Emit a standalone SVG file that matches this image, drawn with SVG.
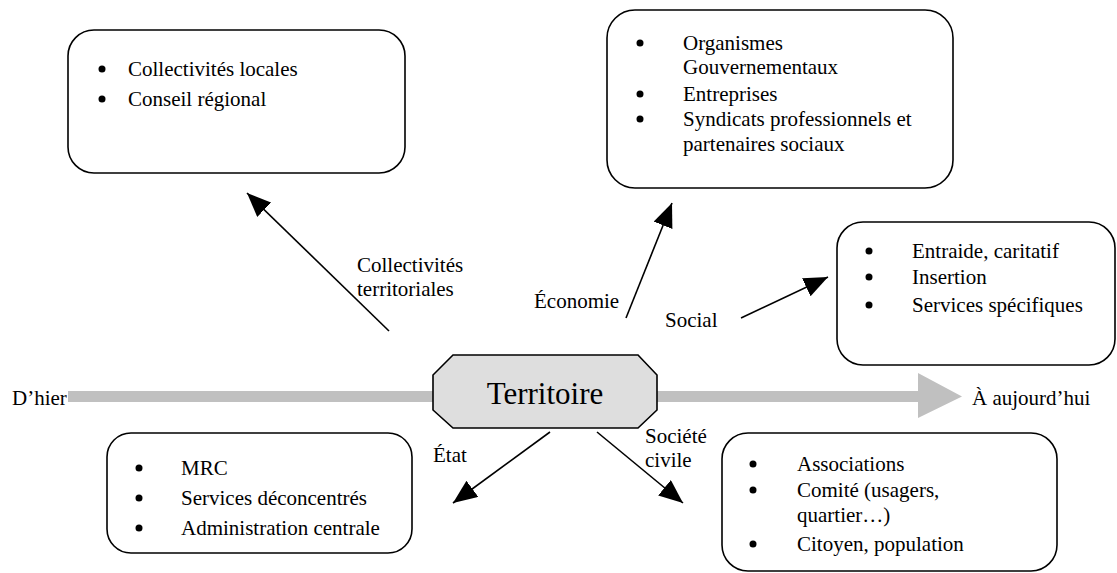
<svg xmlns="http://www.w3.org/2000/svg" width="1117" height="573" viewBox="0 0 1117 573">
<defs>
<style>
text{font-family:"Liberation Serif","Times New Roman",serif;font-size:21px;fill:#000}
.box{fill:#fff;stroke:#000;stroke-width:1.6}
.dot{fill:#000}
.con{stroke:#000;stroke-width:1.6;fill:none;marker-end:url(#ah)}
</style>
<marker id="ah" viewBox="0 0 24 20" refX="24" refY="10" markerWidth="24" markerHeight="20" markerUnits="userSpaceOnUse" orient="auto">
<path d="M0,0 L24,10 L0,20 Z" fill="#000"/>
</marker>
</defs>
<rect width="1117" height="573" fill="#fff"/>

<g id="timeline">
<rect x="68" y="391" width="366" height="11" fill="#c0c0c0"/>
<path d="M657,391 L918,391 L918,373 L962,396.5 L918,418 L918,402 L657,402 Z" fill="#c0c0c0"/>
<text x="12" y="405">D’hier</text>
<text x="972" y="405">À aujourd’hui</text>
</g>

<g id="connectors">
<line class="con" x1="389" y1="331" x2="247" y2="193"/>
<line class="con" x1="626" y1="318" x2="672" y2="203"/>
<line class="con" x1="741" y1="318" x2="828" y2="277"/>
<line class="con" x1="550" y1="432" x2="453" y2="503"/>
<line class="con" x1="597" y1="432" x2="683" y2="503"/>
<text x="357" y="272">Collectivités</text>
<text x="357" y="296">territoriales</text>
<text x="534" y="308">Économie</text>
<text x="665" y="327">Social</text>
<text x="433" y="462">État</text>
<text x="645" y="443">Société</text>
<text x="645" y="467">civile</text>
</g>

<g id="territoire">
<path d="M453,355 L638,355 L657,375 L657,410 L638,428 L453,428 L433,410 L433,375 Z" fill="#dedede" stroke="#000" stroke-width="1.6"/>
<text x="545" y="404" text-anchor="middle" style="font-size:31px">Territoire</text>
</g>

<g id="collectivites">
<rect class="box" x="68" y="30" width="337" height="143" rx="26"/>
<circle class="dot" cx="102" cy="69" r="3.5"/>
<circle class="dot" cx="102" cy="99" r="3.5"/>
<text x="128" y="76">Collectivités locales</text>
<text x="128" y="106">Conseil régional</text>
</g>

<g id="economie">
<rect class="box" x="607" y="10" width="346" height="178" rx="28"/>
<circle class="dot" cx="640" cy="43" r="3.5"/>
<circle class="dot" cx="640" cy="94" r="3.5"/>
<circle class="dot" cx="640" cy="119" r="3.5"/>
<text x="683" y="50">Organismes</text>
<text x="683" y="74">Gouvernementaux</text>
<text x="683" y="101">Entreprises</text>
<text x="683" y="126">Syndicats professionnels et</text>
<text x="683" y="151">partenaires sociaux</text>
</g>

<g id="social">
<rect class="box" x="837" y="222" width="278" height="143" rx="26"/>
<circle class="dot" cx="869" cy="251" r="3.5"/>
<circle class="dot" cx="869" cy="277" r="3.5"/>
<circle class="dot" cx="869" cy="305" r="3.5"/>
<text x="912" y="258">Entraide, caritatif</text>
<text x="912" y="284">Insertion</text>
<text x="912" y="312">Services spécifiques</text>
</g>

<g id="etat">
<rect class="box" x="107" y="433" width="305" height="120" rx="24"/>
<circle class="dot" cx="139" cy="468" r="3.5"/>
<circle class="dot" cx="139" cy="498" r="3.5"/>
<circle class="dot" cx="139" cy="528" r="3.5"/>
<text x="181" y="475">MRC</text>
<text x="181" y="505">Services déconcentrés</text>
<text x="181" y="535">Administration centrale</text>
</g>

<g id="societe">
<rect class="box" x="722" y="433" width="335" height="138" rx="26"/>
<circle class="dot" cx="753" cy="464" r="3.5"/>
<circle class="dot" cx="753" cy="490" r="3.5"/>
<circle class="dot" cx="753" cy="544" r="3.5"/>
<text x="797" y="471">Associations</text>
<text x="797" y="497">Comité (usagers,</text>
<text x="797" y="522">quartier…)</text>
<text x="797" y="551">Citoyen, population</text>
</g>
</svg>
